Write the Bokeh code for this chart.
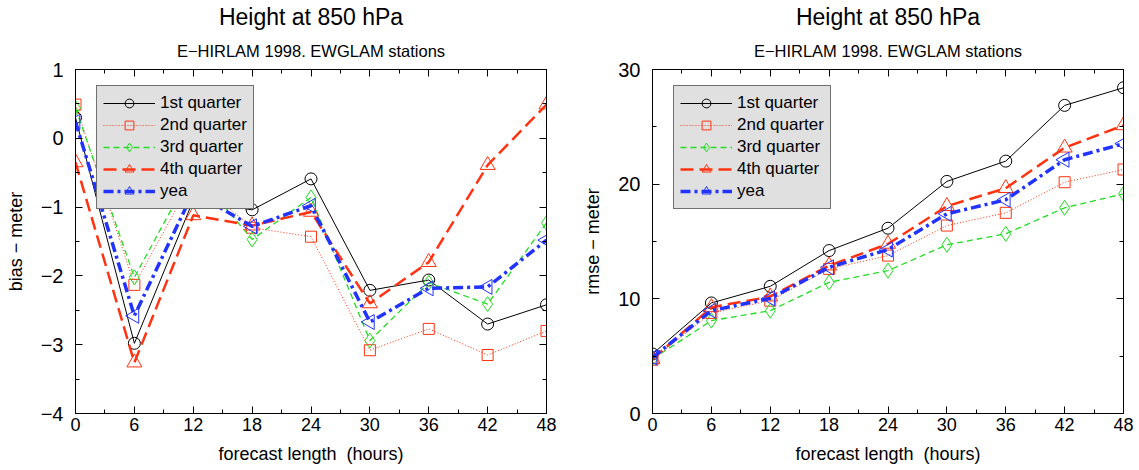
import math
from bokeh.plotting import figure
from bokeh.layouts import row
from bokeh.models import (Range1d, FixedTicker, LinearAxis, Title, Legend, LegendItem)
from bokeh.embed import file_html
from bokeh.resources import INLINE

hours = [0, 6, 12, 18, 24, 30, 36, 42, 48]
series_names = ["1st quarter", "2nd quarter", "3rd quarter", "4th quarter", "yea"]

bias_q1 = [0.30, -2.98, -0.90, -1.04, -0.59, -2.21, -2.06, -2.70, -2.42]
bias_q2 = [0.49, -2.13, -0.58, -1.30, -1.43, -3.08, -2.77, -3.15, -2.80]
bias_q3 = [0.44, -2.02, -0.45, -1.47, -0.86, -2.94, -2.10, -2.41, -1.23]
bias_q4 = [-0.35, -3.26, -1.12, -1.27, -1.07, -2.40, -1.80, -0.39, 0.49]
bias_yr = [0.24, -2.58, -0.78, -1.28, -0.98, -2.67, -2.18, -2.16, -1.48]

rmse_q1 = [5.19, 9.64, 11.09, 14.21, 16.16, 20.24, 22.01, 26.87, 28.41]
rmse_q2 = [4.69, 8.77, 9.84, 12.61, 13.77, 16.39, 17.50, 20.17, 21.28]
rmse_q3 = [4.75, 8.10, 8.97, 11.44, 12.46, 14.71, 15.67, 17.94, 19.16]
rmse_q4 = [4.75, 9.26, 10.19, 12.90, 14.79, 18.08, 19.65, 23.18, 25.13]
rmse_yr = [4.89, 8.97, 10.04, 12.75, 14.30, 17.41, 18.64, 22.13, 23.53]

x_ticks = [0, 6, 12, 18, 24, 30, 36, 42, 48]
x_minor = [3, 9, 15, 21, 27, 33, 39, 45]
bias_ticks = [-4, -3, -2, -1, 0, 1]
bias_minor = [-3.5, -2.5, -1.5, -0.5, 0.5]
rmse_ticks = [0, 10, 20, 30]
rmse_minor = [5, 15, 25]

FONT = "Liberation Sans"

styles = [
    dict(color="#000000", dash="solid", width=1.0, marker="circle", size=12, angle=0.0),
    dict(color="#ff3311", dash="1 2", width=1.0, marker="square", size=11, angle=0.0),
    dict(color="#22dd22", dash="6 4", width=1.3, marker="diamond", size=15, angle=0.0),
    dict(color="#ff3311", dash="13 6", width=2.5, marker="triangle", size=15, angle=0.0),
    dict(color="#2233ff", dash="10 4 3 4", width=3.5, marker="triangle", size=15, angle=math.pi / 2),
]


def style_axis(ax, ticks, minor, labels=True, overrides=None, size="20px"):
    ax.ticker = FixedTicker(ticks=ticks, minor_ticks=minor)
    ax.major_tick_in = 7
    ax.major_tick_out = 0
    ax.minor_tick_in = 4
    ax.minor_tick_out = 0
    ax.major_tick_line_color = "black"
    ax.minor_tick_line_color = "black"
    ax.axis_line_color = "black"
    if labels:
        ax.major_label_text_font = FONT
        ax.major_label_text_font_size = size
        ax.major_label_text_color = "black"
        ax.axis_label_text_font = FONT
        ax.axis_label_text_font_size = "18px"
        ax.axis_label_text_font_style = "normal"
        ax.axis_label_text_color = "black"
        if overrides:
            ax.major_label_overrides = overrides
    else:
        ax.major_label_text_font_size = "0px"
        ax.major_label_text_color = None
        ax.major_label_standoff = 0


def make_plot(ydata, yr, yticks, yminor, ylabel, width, border_left, border_right, overrides=None):
    p = figure(width=width, height=470, output_backend="svg", toolbar_location=None,
               x_range=Range1d(0, 48), y_range=Range1d(*yr),
               min_border_left=border_left, min_border_right=border_right,
               min_border_top=69, min_border_bottom=57, title=None)
    p.grid.visible = False
    p.outline_line_color = "black"
    p.outline_line_width = 1
    p.background_fill_color = "white"
    p.border_fill_color = "white"

    style_axis(p.xaxis[0], x_ticks, x_minor, size="18px")
    p.xaxis[0].axis_label = "forecast length\u00a0 (hours)"
    p.xaxis[0].major_label_standoff = 4
    p.xaxis[0].axis_label_standoff = 10
    style_axis(p.yaxis[0], yticks, yminor, overrides=overrides)
    p.yaxis[0].axis_label = ylabel
    p.yaxis[0].major_label_standoff = 12
    p.yaxis[0].axis_label_standoff = 12

    top = LinearAxis()
    style_axis(top, x_ticks, x_minor, labels=False)
    p.add_layout(top, "above")
    right = LinearAxis()
    style_axis(right, yticks, yminor, labels=False)
    p.add_layout(right, "right")

    items = []
    for name, ys, st in zip(series_names, ydata, styles):
        ln = p.line(hours, ys, line_color=st["color"], line_width=st["width"], line_dash=st["dash"])
        sc = p.scatter(hours, ys, marker=st["marker"], size=st["size"], angle=st["angle"],
                       line_color=st["color"], line_width=1.0, fill_color=None)
        items.append(LegendItem(label=name, renderers=[ln, sc]))

    leg = Legend(items=items, location=(21, 204))
    leg.background_fill_color = "#e0e0e0"
    leg.background_fill_alpha = 1.0
    leg.border_line_color = "black"
    leg.border_line_width = 1
    leg.label_text_font = FONT
    leg.label_text_font_size = "17px"
    leg.label_text_color = "black"
    leg.glyph_width = 52
    leg.glyph_height = 22
    leg.label_height = 22
    leg.spacing = 0
    leg.padding = 6
    leg.margin = 0
    leg.label_standoff = 5
    p.add_layout(leg, "center")

    sub = Title(text="E\u2212HIRLAM 1998. EWGLAM stations", align="center", standoff=20,
                text_font=FONT, text_font_size="16.5px", text_font_style="normal", text_color="black")
    p.add_layout(sub, "above")
    main = Title(text="Height at 850 hPa", align="center", standoff=0,
                 text_font=FONT, text_font_size="23px", text_font_style="normal", text_color="black")
    p.add_layout(main, "above")
    return p


bias_over = {-4: "\u22124", -3: "\u22123", -2: "\u22122", -1: "\u22121", 0: "0", 1: "1"}
p1 = make_plot([bias_q1, bias_q2, bias_q3, bias_q4, bias_yr], (-4, 1), bias_ticks, bias_minor,
               "bias \u2212 meter", 570, 75, 24, overrides=bias_over)
p2 = make_plot([rmse_q1, rmse_q2, rmse_q3, rmse_q4, rmse_yr], (0, 30), rmse_ticks, rmse_minor,
               "rmse \u2212 meter", 569, 82, 16)

layout = row(p1, p2, spacing=0)
open("out.html", "w").write(file_html(layout, INLINE))
